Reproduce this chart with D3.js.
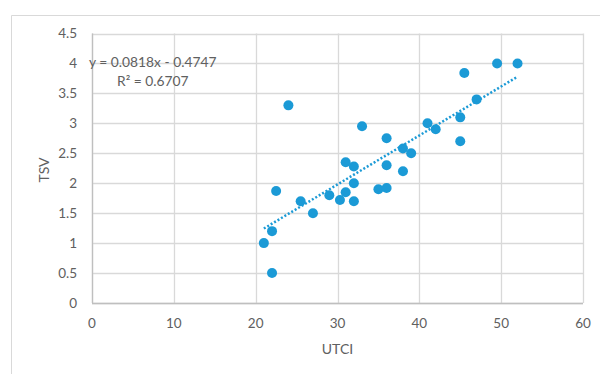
<!DOCTYPE html>
<html>
<head>
<meta charset="utf-8">
<script src="https://cdn.jsdelivr.net/npm/d3@7"></script>
<style>
  html, body { margin: 0; padding: 0; background: #fff; }
  svg { display: block; font-family: Lato, "Open Sans", sans-serif; }
</style>
</head>
<body>
<svg id="chart" width="600" height="374"></svg>
<script>
// UTCI (x) against mean thermal sensation vote (y)
const utci = [24, 49.5, 52, 45.5, 47, 41, 42, 45, 45, 33, 36, 38, 39, 31, 32, 36, 38, 32,
              22.5, 35, 36, 31, 29, 30.3, 25.5, 32, 27, 22, 21, 22];
const tsv  = [3.3, 4, 4, 3.84, 3.4, 3, 2.9, 3.1, 2.7, 2.95, 2.75, 2.58, 2.5, 2.35, 2.28, 2.3, 2.2, 2.0,
              1.87, 1.9, 1.92, 1.85, 1.8, 1.72, 1.7, 1.7, 1.5, 1.2, 1.0, 0.5];
const xTicks = [0, 10, 20, 30, 40, 50, 60];
const yTicks = [0, 0.5, 1, 1.5, 2, 2.5, 3, 3.5, 4, 4.5];
const slope = 0.0818, intercept = -0.4747, r2 = 0.6707;
const trendRange = [21, 52];

(function () {
  const svg = d3.select("#chart");
  const plotL = 92, plotR = 583, plotT = 33.5, plotB = 303;
  const x = d3.scaleLinear().domain([0, 60]).range([plotL, plotR]);
  const y = d3.scaleLinear().domain([0, 4.5]).range([plotB, plotT]);

  const grey = "#606060", grid = "#d9d9d9", blue = "#1b9ad6";

  // outer chart frame
  svg.append("path")
    .attr("d", "M11.5,374 V15.5 H600")
    .attr("fill", "none").attr("stroke", grid).attr("stroke-width", 1);

  // gridlines
  svg.append("g").selectAll("line").data(yTicks).join("line")
    .attr("x1", plotL).attr("x2", plotR)
    .attr("y1", d => Math.round(y(d)) + 0.5).attr("y2", d => Math.round(y(d)) + 0.5)
    .attr("stroke", grid).attr("stroke-width", 1.3);
  svg.append("g").selectAll("line").data(xTicks).join("line")
    .attr("y1", plotT).attr("y2", plotB)
    .attr("x1", d => Math.round(x(d)) + 0.5).attr("x2", d => Math.round(x(d)) + 0.5)
    .attr("stroke", grid).attr("stroke-width", 1.3);

  // axis lines
  svg.append("line").attr("x1", plotL).attr("x2", plotR)
    .attr("y1", Math.round(y(0)) + 0.5).attr("y2", Math.round(y(0)) + 0.5)
    .attr("stroke", "#bfbfbf").attr("stroke-width", 1.3);
  svg.append("line").attr("y1", plotT).attr("y2", plotB)
    .attr("x1", Math.round(x(0)) + 0.5).attr("x2", Math.round(x(0)) + 0.5)
    .attr("stroke", "#bfbfbf").attr("stroke-width", 1.3);

  // tick labels
  svg.append("g").selectAll("text").data(yTicks).join("text")
    .attr("x", 77).attr("y", d => y(d)).attr("dy", "0.35em")
    .attr("text-anchor", "end").attr("font-size", 13.5).attr("fill", grey)
    .text(d => d);
  svg.append("g").selectAll("text").data(xTicks).join("text")
    .attr("x", d => x(d)).attr("y", 323).attr("dy", "0.35em")
    .attr("text-anchor", "middle").attr("font-size", 13.5).attr("fill", grey)
    .text(d => d);

  // axis titles
  svg.append("text").attr("x", (plotL + plotR) / 2).attr("y", 349).attr("dy", "0.35em")
    .attr("text-anchor", "middle").attr("font-size", 14).attr("fill", grey).text("UTCI");
  svg.append("text").attr("transform", "translate(44,170) rotate(-90)").attr("dy", "0.35em")
    .attr("text-anchor", "middle").attr("font-size", 14).attr("fill", grey).text("TSV");

  // data points
  svg.append("g").selectAll("circle").data(utci).join("circle")
    .attr("cx", d => x(d)).attr("cy", (d, i) => y(tsv[i]))
    .attr("r", 5).attr("fill", blue);

  // linear trendline
  svg.append("line")
    .attr("x1", x(trendRange[0])).attr("y1", y(slope * trendRange[0] + intercept))
    .attr("x2", x(trendRange[1])).attr("y2", y(slope * trendRange[1] + intercept))
    .attr("stroke", blue).attr("stroke-width", 2.5).attr("stroke-dasharray", "2,2");

  // regression label
  svg.append("text").attr("x", 89).attr("y", 62).attr("dy", "0.35em")
    .attr("font-size", 13.8).attr("fill", grey)
    .text(`y = ${slope}x - ${Math.abs(intercept)}`);
  svg.append("text").attr("x", 117).attr("y", 81).attr("dy", "0.35em")
    .attr("font-size", 13.8).attr("fill", grey)
    .text(`R² = ${r2}`);
})();
</script>
</body>
</html>
